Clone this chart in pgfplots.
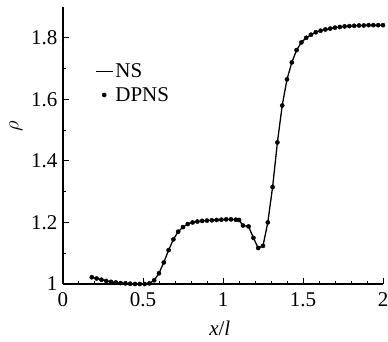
\documentclass[border=0pt]{standalone}
\usepackage{pgfplots}
\pgfplotsset{compat=1.18}
\usepackage{fontspec}
\setmainfont{Liberation Serif}
\pgfplotstableread{
x y
0.18 1.022
0.21 1.018
0.24 1.014
0.27 1.010
0.30 1.007
0.33 1.005
0.36 1.003
0.39 1.002
0.42 1.001
0.45 1.000
0.48 1.000
0.51 1.000
0.54 1.002
0.57 1.012
0.60 1.035
0.63 1.070
0.66 1.110
0.69 1.145
0.72 1.170
0.75 1.185
0.78 1.195
0.81 1.200
0.84 1.203
0.87 1.205
0.90 1.206
0.93 1.207
0.96 1.208
0.99 1.209
1.02 1.210
1.05 1.210
1.08 1.209
1.10 1.208
1.125 1.190
1.16 1.187
1.19 1.150
1.22 1.117
1.25 1.124
1.28 1.200
1.31 1.315
1.34 1.460
1.37 1.580
1.40 1.665
1.43 1.720
1.46 1.760
1.49 1.785
1.52 1.800
1.55 1.810
1.58 1.818
1.61 1.823
1.64 1.827
1.67 1.830
1.70 1.833
1.73 1.835
1.76 1.837
1.79 1.838
1.82 1.839
1.85 1.840
1.88 1.840
1.91 1.841
1.94 1.841
1.97 1.841
2.00 1.841
}\data
\begin{document}
\begin{tikzpicture}
\useasboundingbox (-63pt,-57pt) rectangle (325pt,284pt);
\begin{axis}[
  scale only axis,
  width=320pt, height=277pt,
  xmin=0, xmax=2, ymin=1, ymax=1.9,
  axis x line*=bottom, axis y line*=left,
  axis line style={line width=1.4pt},
  xtick={0,0.5,1,1.5,2},
  xticklabels={0,0.5,1,1.5,2},
  ytick={1,1.2,1.4,1.6,1.8},
  yticklabels={1,1.2,1.4,1.6,1.8},
  minor x tick num=4, minor y tick num=1,
  tick align=inside,
  major tick length=6pt, minor tick length=3pt,
  tick style={line width=1pt, black},
  every tick label/.style={font=\fontsize{21}{24}\selectfont},
  xticklabel style={yshift=-5pt},
  yticklabel style={xshift=-2pt},
  label style={font=\fontsize{21}{24}\selectfont},
  xlabel={\textit{x}/\textit{l}},
  ylabel={$\rho$},
  xlabel style={at={(axis description cs:0.49,0)}, anchor=center, yshift=-44pt},
  ylabel style={at={(axis description cs:-0.147,0.57)}, anchor=center},
  legend style={draw=none, fill=none, at={(0.09,0.81)}, anchor=north west,
    font=\fontsize{21}{24}\selectfont, row sep=4pt},
  legend cell align=left,
]
\addplot[black, line width=1.3pt, no marks] table {\data};
\addlegendentry{NS}
\addplot[only marks, mark=*, mark size=2.1pt, black] table {\data};
\addlegendentry{DPNS}
\end{axis}
\end{tikzpicture}
\end{document}
